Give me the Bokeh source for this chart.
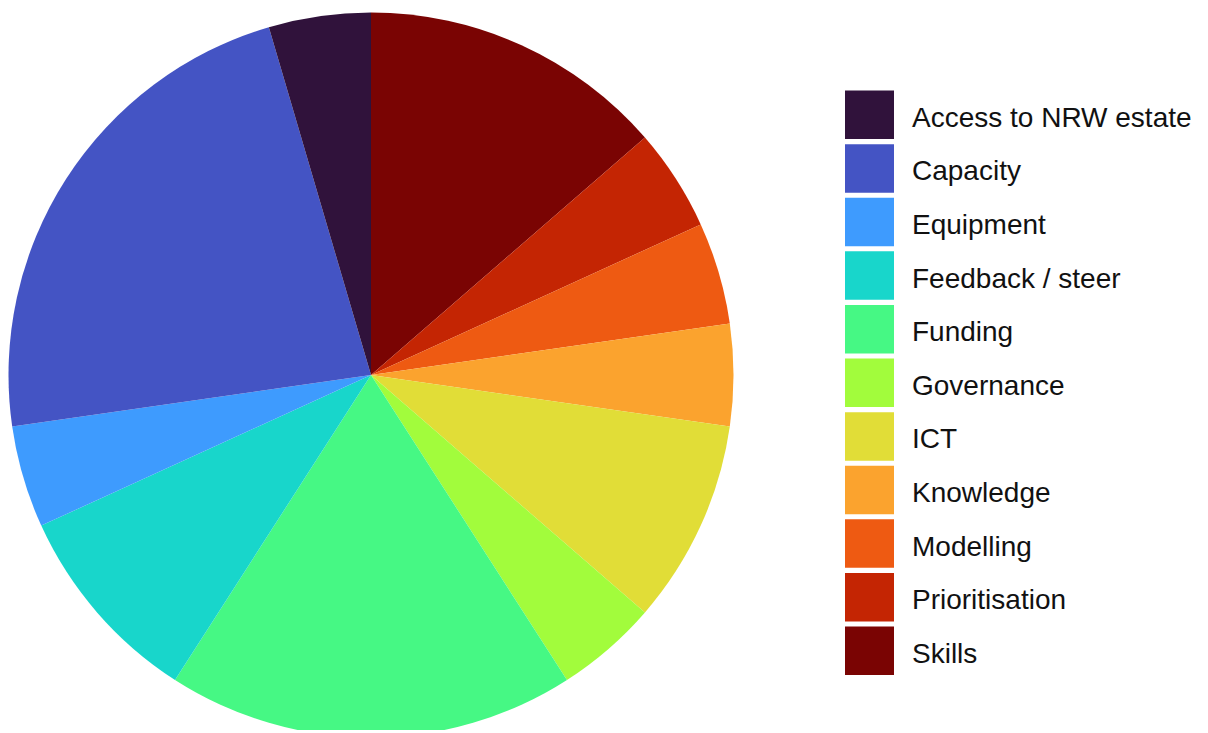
import numpy as np
from bokeh.plotting import figure
from bokeh.models import Range1d, ColumnDataSource
from bokeh.core.properties import value
from bokeh.embed import file_html
from bokeh.resources import INLINE

categories = ["Access to NRW estate", "Capacity", "Equipment", "Feedback / steer",
              "Funding", "Governance", "ICT", "Knowledge", "Modelling",
              "Prioritisation", "Skills"]
counts = [1, 5, 1, 2, 4, 1, 2, 1, 1, 1, 3]
colors = ["#30123B", "#4454C4", "#3E9BFE", "#18D6CB", "#46F884", "#A2FC3C",
          "#E1DD37", "#FBA32E", "#EE5A12", "#C42503", "#7A0403"]

W, H = 1200, 730
p = figure(width=W, height=H, output_backend="svg", toolbar_location=None,
           x_range=Range1d(0, W), y_range=Range1d(0, H),
           x_axis_type=None, y_axis_type=None, min_border=0)
p.grid.visible = False
p.outline_line_color = None
p.background_fill_color = "white"
p.border_fill_color = "white"

# pie: clockwise from 12 o'clock, in reverse legend order
order = list(range(len(categories)))[::-1]
vals = np.array([counts[i] for i in order], dtype=float)
ang = vals / vals.sum() * 2 * np.pi
ends = np.cumsum(ang)
starts = ends - ang
cx, cy, r = 370.5, H - 374.5, 362.5
pie = ColumnDataSource(dict(
    start=np.pi / 2 - starts, end=np.pi / 2 - ends,
    color=[colors[i] for i in order]))
p.wedge(x=cx, y=cy, radius=r, start_angle="start", end_angle="end",
        direction="clock", fill_color="color", line_color=None, source=pie)

# legend
n = len(categories)
pitch = 53.6
key_top = np.array([90 + pitch * i for i in range(n)])
key_cy = key_top + 24.3
leg = ColumnDataSource(dict(
    x=[869.0] * n, y=list(H - key_cy),
    ty=list(H - (key_cy + 2.5)), tx=[911.5] * n,
    color=colors, label=categories))
p.rect(x="x", y="y", width=49, height=48.5, fill_color="color", line_color=None,
       source=leg)
p.text(x="tx", y="ty", text="label", source=leg, text_font=value("Liberation Sans"),
       text_font_size="28px", text_color="#111111", text_baseline="alphabetic",
       text_align="left")

open("out.html", "w").write(file_html(p, INLINE))
